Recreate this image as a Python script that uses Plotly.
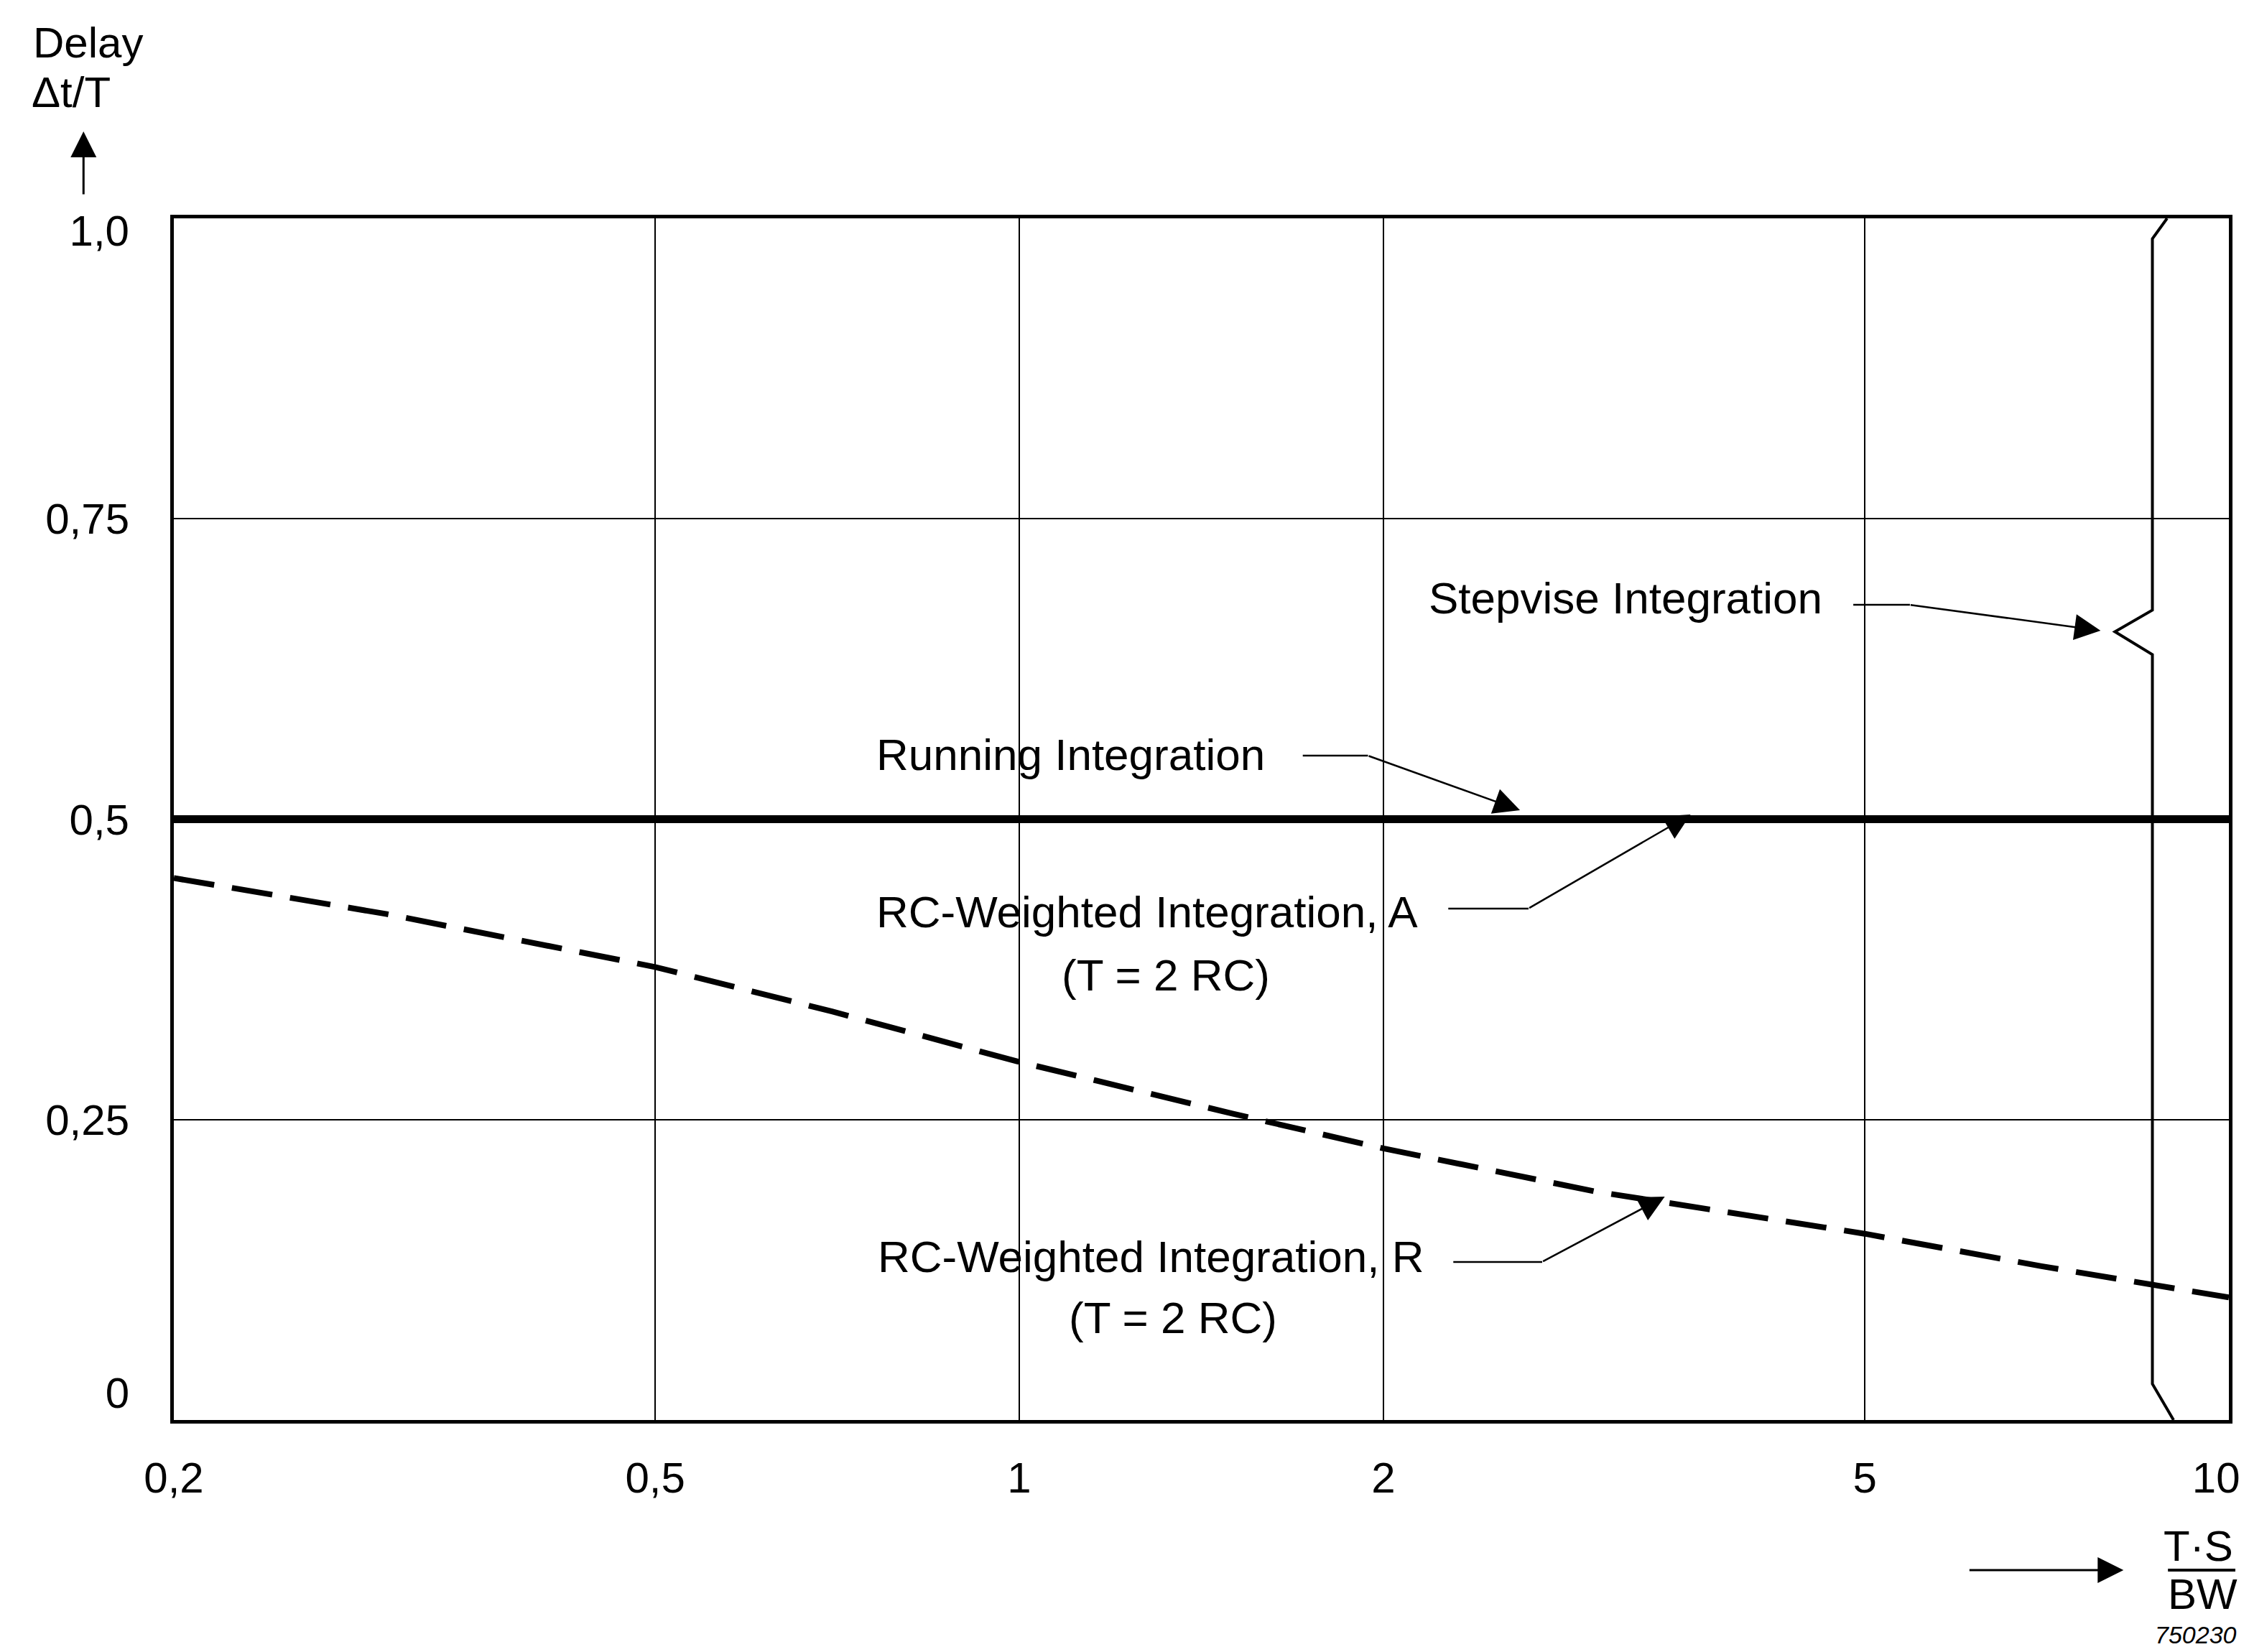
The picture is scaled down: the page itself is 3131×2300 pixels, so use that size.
import math
import plotly.graph_objects as go

# ---------------- data ----------------
x_tickvals = [0.2, 0.5, 1, 2, 5, 9.76]
x_ticktext = ["0,2", "0,5", "1", "2", "5", "10"]
x_gridvals = [0.5, 1, 2, 5]
y_tickvals = [0.023, 0.25, 0.5, 0.75, 0.99]
y_ticktext = ["0", "0,25", "0,5", "0,75", "1,0"]
y_gridvals = [0.25, 0.5, 0.75]

running_x = [0.2, 10]
running_y = [0.5, 0.5]

rc_a_x = [0.2, 10]
rc_a_y = [0.5, 0.5]

rc_r_x = [0.2, 0.3, 0.5, 0.7, 1, 1.5, 2, 3, 5, 7, 10]
rc_r_y = [0.451, 0.421, 0.377, 0.34, 0.298, 0.255, 0.226, 0.19, 0.155, 0.128, 0.102]

stepwise_x = [8.89, 8.645, 8.645, 8.05, 8.645, 8.645, 9.0]
stepwise_y = [1.0, 0.983, 0.674, 0.656, 0.637, 0.03, 0.0]

# ---------------- layout geometry ----------------
W, H = 3131, 2300
L, R, T, B = 242, 3109, 304, 1977
FONT = "Liberation Sans, Arial, Helvetica, sans-serif"
FS = 60
LFS = 62


def px(X):
    return (X - L) / (R - L)


def py(Y):
    return (B - Y) / (B - T)


fig = go.Figure()

fig.add_trace(go.Scatter(x=rc_a_x, y=rc_a_y, mode="lines",
                         line=dict(color="black", width=11), name="RC-Weighted Integration, A"))
fig.add_trace(go.Scatter(x=running_x, y=running_y, mode="lines",
                         line=dict(color="black", width=11), name="Running Integration"))
fig.add_trace(go.Scatter(x=rc_r_x, y=rc_r_y, mode="lines",
                         line=dict(color="black", width=8, dash="57px,25px"),
                         name="RC-Weighted Integration, R"))
fig.add_trace(go.Scatter(x=stepwise_x, y=stepwise_y, mode="lines",
                         line=dict(color="black", width=4), name="Stepvise Integration"))

annotations = []
shapes = []


def text(s, X, Y, anchor="left", size=LFS, italic=False):
    annotations.append(dict(
        text=s, x=px(X), y=py(Y), xref="paper", yref="paper",
        xanchor=anchor, yanchor="middle", showarrow=False,
        font=dict(family=FONT, size=size, color="black",
                  style="italic" if italic else "normal"),
    ))


def arrow(tail, tip, width=2.5, size=2.9):
    annotations.append(dict(
        text="", x=px(tip[0]), y=py(tip[1]), xref="paper", yref="paper",
        ax=tail[0] - tip[0], ay=tail[1] - tip[1], axref="pixel", ayref="pixel",
        showarrow=True, arrowhead=2, arrowsize=size, arrowwidth=width,
        arrowcolor="black",
    ))


def seg(p0, p1, width=2.5):
    shapes.append(dict(type="line", xref="paper", yref="paper",
                       x0=px(p0[0]), y0=py(p0[1]), x1=px(p1[0]), y1=py(p1[1]),
                       line=dict(color="black", width=width)))


# labels with leaders
text("Stepvise Integration", 1991, 832)
seg((2585, 842), (2664, 842))
arrow((2664, 842), (2930, 878))

text("Running Integration", 1220, 1050)
seg((1817, 1052), (1908, 1052))
arrow((1908, 1052), (2120, 1128))

text("RC-Weighted Integration, A", 1220, 1269)
text("(T = 2 RC)", 1626, 1357, anchor="center")
seg((2020, 1265), (2132, 1265))
arrow((2132, 1265), (2358, 1134))

text("RC-Weighted Integration, R", 1222, 1749)
text("(T = 2 RC)", 1636, 1834, anchor="center")
seg((2027, 1757), (2151, 1757))
arrow((2151, 1757), (2322, 1666))

# axis titles
text("Delay", 44, 60, size=FS)
text("\u0394t/T", 42, 128, size=FS)
arrow((116, 272), (116, 183), width=3, size=2.4)

text("T\u00b7S", 3066, 2152, anchor="center", size=FS)
seg((3024, 2186), (3118, 2186), width=4)
text("BW", 3072, 2219, anchor="center", size=FS)
arrow((2746, 2186), (2962, 2186), width=3, size=2.4)

text("750230", 3122, 2276, anchor="right", size=34, italic=True)

axis_common = dict(
    showline=True, linecolor="black", linewidth=5, mirror=True,
    zeroline=False, showgrid=False, ticks="",
    tickfont=dict(family=FONT, size=FS, color="black"),
)

fig.update_layout(
    width=W, height=H,
    margin=dict(l=L, r=W - R, t=T, b=H - B, pad=0),
    paper_bgcolor="white", plot_bgcolor="white",
    showlegend=False,
    annotations=annotations, shapes=shapes,
    xaxis=dict(
        type="log", range=[math.log10(0.2), 1],
        tickmode="array", tickvals=x_tickvals, ticktext=x_ticktext,
        ticklabelstandoff=24,
        minor=dict(tickmode="array", tickvals=x_gridvals, showgrid=True,
                   gridcolor="black", gridwidth=2, ticks=""),
        **axis_common,
    ),
    yaxis=dict(
        range=[0, 1],
        tickmode="array", tickvals=y_tickvals, ticktext=y_ticktext,
        ticklabelstandoff=45,
        minor=dict(tickmode="array", tickvals=y_gridvals, showgrid=True,
                   gridcolor="black", gridwidth=2, ticks=""),
        **axis_common,
    ),
)

fig.write_html("out.html")
